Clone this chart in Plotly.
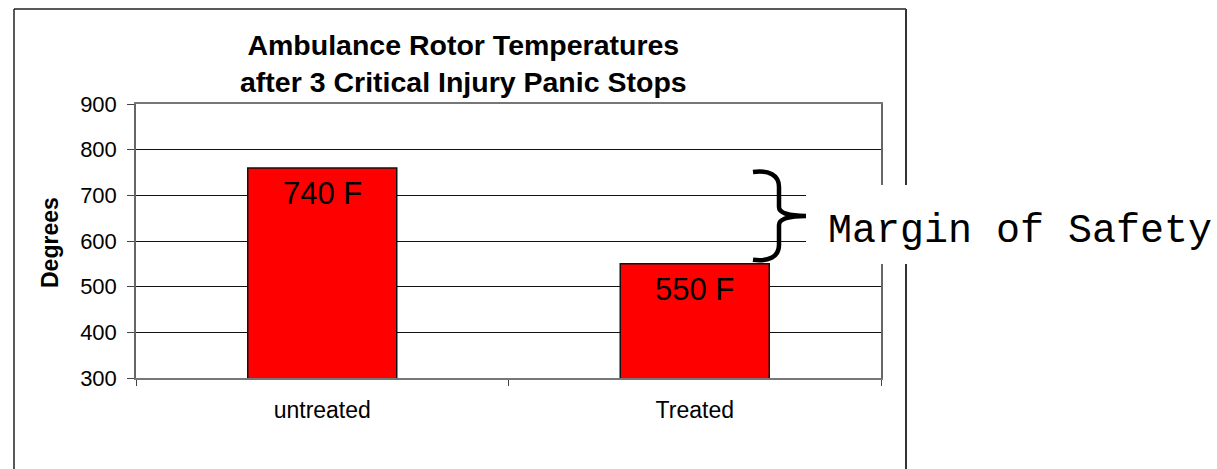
import plotly.graph_objects as go

# ---- data ----
categories = ["untreated", "Treated"]
temperatures = [760, 550]
bar_labels = ["740 F", "550 F"]
y_ticks = [300, 400, 500, 600, 700, 800, 900]
title_lines = ["Ambulance Rotor Temperatures", "after 3 Critical Injury Panic Stops"]
y_title = "Degrees"
note_text = "Margin of Safety"

W, H = 1217, 469
ML, MR, MT, MB = 136, 336, 104, 91
PW, PH = W - ML - MR, H - MT - MB

def px(x):
    return (x - ML) / PW

def py(y):
    return (H - MB - y) / PH

def yv(val):
    # data value -> pixel row
    return H - MB - (val - y_ticks[0]) / (y_ticks[-1] - y_ticks[0]) * PH

SANS = "Liberation Sans, Arial, sans-serif"

fig = go.Figure()
fig.add_trace(go.Bar(
    x=categories, y=temperatures, width=0.4,
    marker=dict(color="#FF0000", line=dict(color="#111111", width=1.5)),
    hoverinfo="skip",
))

annotations = []
for c, v, t in zip(categories, temperatures, bar_labels):
    annotations.append(dict(x=c, y=v, xref="x", yref="y", text=t, showarrow=False,
                            yanchor="middle", yshift=-26,
                            font=dict(family=SANS, size=31, color="black")))

annotations.append(dict(x=px(463), y=py(64), xref="paper", yref="paper",
                        text="<b>" + "<br>".join(title_lines) + "</b>", showarrow=False,
                        xanchor="center", yanchor="middle", align="center",
                        font=dict(family=SANS, size=28.5, color="black")))
annotations.append(dict(x=px(50), y=py(243), xref="paper", yref="paper",
                        text="<b>" + y_title + "</b>", showarrow=False, textangle=-90,
                        xanchor="center", yanchor="middle",
                        font=dict(family=SANS, size=23, color="black")))
annotations.append(dict(x=px(826), y=py(231), xref="paper", yref="paper",
                        text=note_text, showarrow=False, xanchor="left", yanchor="middle",
                        font=dict(family="Liberation Mono, Courier New, monospace", size=40, color="black")))

# brace from bar tops
T = yv(temperatures[0]) + 4
B = yv(temperatures[1]) - 4
M = (T + B) / 2
x0, x1, x2 = 753, 779, 806
pts = [
    ("M", [(x0, T)]),
    ("C", [(x0 + 16, T - 2), (x1, T + 3), (x1, T + 15)]),
    ("L", [(x1, M - 9)]),
    ("C", [(x1, M - 3), (x1 + 10, M), (x2, M)]),
    ("C", [(x1 + 10, M), (x1, M + 3), (x1, M + 9)]),
    ("L", [(x1, B - 15)]),
    ("C", [(x1, B - 3), (x0 + 16, B + 2), (x0, B)]),
]
path = " ".join(cmd + " " + " ".join(f"{px(a):.5f},{py(b):.5f}" for a, b in p) for cmd, p in pts)

shapes = [
    # outer chart frame
    dict(type="line", xref="paper", yref="paper", x0=px(14), x1=px(14), y0=py(9), y1=py(480),
         line=dict(color="#222222", width=1.5), layer="above"),
    dict(type="line", xref="paper", yref="paper", x0=px(14), x1=px(906), y0=py(9), y1=py(9),
         line=dict(color="#222222", width=1.5), layer="above"),
    dict(type="line", xref="paper", yref="paper", x0=px(906), x1=px(906), y0=py(9), y1=py(480),
         line=dict(color="#333333", width=2), layer="above"),
    # white text box
    dict(type="rect", xref="paper", yref="paper", x0=px(806), x1=px(1230), y0=py(185), y1=py(264),
         fillcolor="white", line=dict(width=0), layer="above"),
    # brace
    dict(type="path", xref="paper", yref="paper", path=path,
         line=dict(color="black", width=4.5), layer="above"),
]

fig.update_layout(
    width=W, height=H,
    margin=dict(l=ML, r=MR, t=MT, b=MB, pad=0),
    paper_bgcolor="white", plot_bgcolor="white",
    showlegend=False,
    annotations=annotations,
    shapes=shapes,
    xaxis=dict(type="category", showgrid=False, tickson="boundaries", ticks="outside",
               ticklen=6, tickcolor="#444", tickwidth=1.2,
               showline=True, linecolor="#777", linewidth=1.5, mirror=True,
               tickfont=dict(family=SANS, size=23, color="black"),
               ticklabelstandoff=11, range=[-0.5, 1.5]),
    yaxis=dict(range=[y_ticks[0], y_ticks[-1]], tickvals=y_ticks,
               showgrid=True, gridcolor="#111111", gridwidth=1, zeroline=False,
               ticks="outside", ticklen=7, tickcolor="#444", tickwidth=1.2,
               showline=True, linecolor="#666", linewidth=1.5, mirror=True,
               tickfont=dict(family=SANS, size=22, color="black"),
               ticklabelstandoff=6),
)

fig.write_html("out.html", config={"displayModeBar": False},
               post_script="document.body.style.margin='0';")
